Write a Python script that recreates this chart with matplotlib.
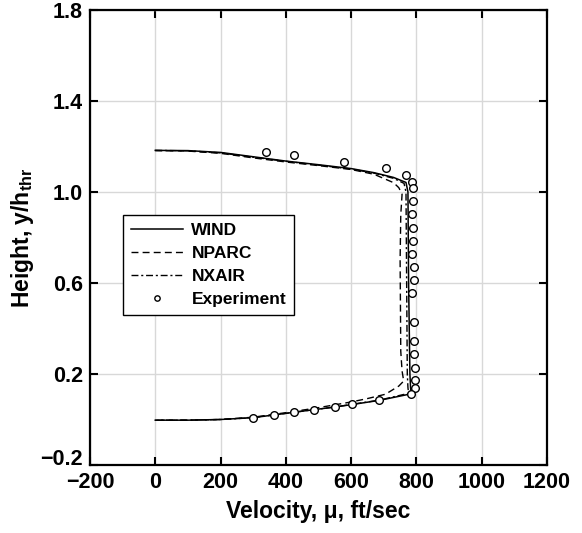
import matplotlib
matplotlib.use("Agg")
import matplotlib.pyplot as plt
import matplotlib.transforms as mtransforms

plt.rcParams["font.family"] = ["Liberation Sans", "DejaVu Sans"]
plt.rcParams["font.weight"] = "bold"
plt.rcParams["mathtext.fontset"] = "custom"
plt.rcParams["mathtext.rm"] = "Liberation Sans:bold"
plt.rcParams["mathtext.bf"] = "Liberation Sans:bold"
plt.rcParams["mathtext.it"] = "Liberation Sans:bold"

# WIND (solid)
wind_x = [0, 100, 200, 300, 400, 500, 600, 670, 730, 768, 774, 775, 776, 778, 780, 782, 784,
          686, 604, 551, 485, 426, 364, 299, 200, 100, 0]
wind_y = [1.183, 1.182, 1.174, 1.155, 1.136, 1.120, 1.103, 1.085, 1.064, 1.042, 1.0, 0.8, 0.6, 0.4,
          0.2, 0.14, 0.113, 0.084, 0.066, 0.055, 0.043, 0.032, 0.020, 0.008, 0.000, -0.003, -0.003]

# NPARC (dashed)
nparc_x = [0, 100, 200, 300, 400, 500, 600, 670, 730, 746, 756, 752, 750, 751, 752, 756, 761,
           746, 705, 650, 600, 500, 400, 300, 200, 100, 0]
nparc_y = [1.182, 1.180, 1.170, 1.150, 1.132, 1.116, 1.099, 1.078, 1.041, 1.019, 0.99, 0.90, 0.7,
           0.5, 0.3, 0.213, 0.169, 0.147, 0.111, 0.092, 0.077, 0.052, 0.030, 0.010, 0.0, -0.003, -0.003]

# NXAIR (dash-dot)
nxair_x = [0, 100, 200, 300, 400, 500, 600, 670, 730, 762, 768, 769, 770, 771, 772, 774, 776,
           686, 604, 551, 485, 426, 364, 299, 200, 100, 0]
nxair_y = [1.183, 1.181, 1.172, 1.153, 1.135, 1.118, 1.101, 1.083, 1.060, 1.038, 1.0, 0.8, 0.6,
           0.4, 0.2, 0.14, 0.115, 0.085, 0.067, 0.055, 0.043, 0.032, 0.020, 0.008, 0.000, -0.003, -0.003]

# Experiment (open circles)
exp_x = [339, 424, 578, 707, 768, 785, 789, 789, 787, 789, 788, 786, 792, 792, 787, 792, 792, 792,
         797, 795, 795, 783, 686, 604, 551, 485, 426, 364, 299]
exp_y = [1.178, 1.161, 1.132, 1.104, 1.076, 1.046, 1.016, 0.959, 0.902, 0.843, 0.786, 0.728, 0.670,
         0.613, 0.555, 0.430, 0.344, 0.287, 0.228, 0.172, 0.140, 0.114, 0.085, 0.067, 0.055, 0.043,
         0.033, 0.020, 0.008]

x_ticks = [-200, 0, 200, 400, 600, 800, 1000, 1200]
y_ticks = [-0.2, 0.2, 0.6, 1.0, 1.4, 1.8]

fig = plt.figure(figsize=(5.82, 5.33), dpi=100)
ax = fig.add_axes([0.1546, 0.1276, 0.7853, 0.8536])

ax.plot(wind_x, wind_y, color="black", lw=1.1, label="WIND")
ax.plot(nparc_x, nparc_y, color="black", lw=1.0, ls=(0, (5, 3)), label="NPARC")
ax.plot(nxair_x, nxair_y, color="black", lw=1.0, ls=(0, (5, 2, 1.5, 2)), label="NXAIR")
ax.plot(exp_x, exp_y, ls="none", marker="o", ms=5.5, mfc="white", mec="black", mew=1.0,
        label="Experiment")

ax.set_xlim(-200, 1200)
ax.set_ylim(-0.2, 1.8)
ax.set_xticks(x_ticks)
ax.set_yticks(y_ticks)
ax.set_yticklabels([f"{v:.1f}".replace("-", "\u2212") for v in y_ticks])
ax.grid(True, color="#d8d8d8", lw=1.0)
ax.set_axisbelow(True)

ax.tick_params(direction="in", length=6, width=1.5, top=True, right=True,
               labelsize=15.5, pad=5)
for spine in ax.spines.values():
    spine.set_linewidth(1.6)

# the bottom y label sits a little higher, as in the original, so it clears "-200"
lift = mtransforms.ScaledTranslation(0, 6 / 72, fig.dpi_scale_trans)
first = ax.get_yticklabels()[0]
first.set_transform(first.get_transform() + lift)

ax.set_xlabel("Velocity, \u03bc, ft/sec", fontsize=16.5, fontweight="bold", labelpad=5)
ax.set_ylabel("Height, y/h$_{\\mathbf{thr}}$", fontsize=16.5, fontweight="bold", labelpad=3)

leg = ax.legend(loc="upper left", bbox_to_anchor=(0.072, 0.549), borderaxespad=0,
                fontsize=12.5, frameon=True, fancybox=False, edgecolor="black",
                framealpha=1.0, handlelength=3.0, handletextpad=0.5, borderpad=0.45,
                labelspacing=0.45, markerscale=0.7)
leg.get_frame().set_linewidth(1.0)

fig.savefig("out.png", dpi=100)
